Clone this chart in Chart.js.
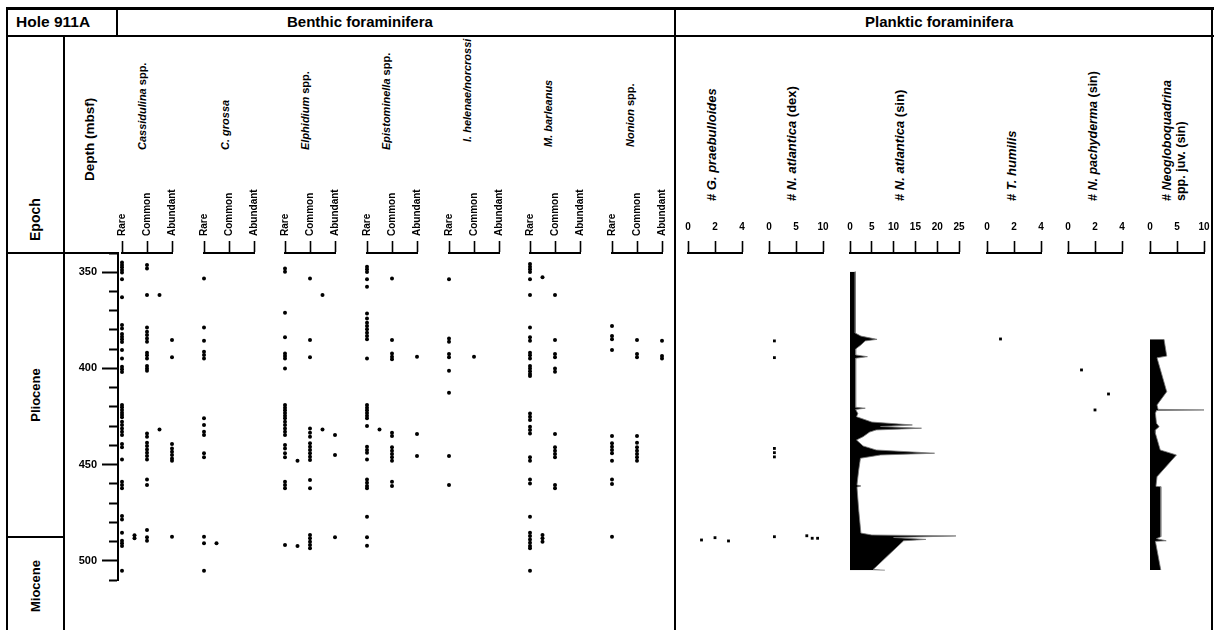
<!DOCTYPE html>
<html>
<head>
<meta charset="utf-8">
<script src="https://cdn.jsdelivr.net/npm/chart.js@4.4.1/dist/chart.umd.min.js"></script>
<style>
  html, body { margin: 0; padding: 0; background: #fff; }
  #page { position: relative; width: 1215px; height: 630px; overflow: hidden;
          font-family: 'Liberation Sans', Arial, sans-serif; color: #000; }
  .ln { position: absolute; background: #000; }
  .t  { position: absolute; white-space: nowrap; font-weight: bold; }
  .v  { position: absolute; white-space: nowrap; font-weight: bold;
        transform-origin: 0 0; transform: rotate(-90deg); }
  .vc { position: absolute; white-space: nowrap; font-weight: bold;
        transform: translate(-50%, -50%) rotate(-90deg); }
  canvas { position: absolute; }
</style>
</head>
<body>
<div id="page">
  <!-- frame -->
  <div class="ln" style="left:6px;top:7px;width:1208px;height:3px"></div>
  <div class="ln" style="left:6px;top:35px;width:1208px;height:2px"></div>
  <div class="ln" style="left:6px;top:7px;width:2px;height:623px"></div>
  <div class="ln" style="left:1211px;top:7px;width:2px;height:623px"></div>
  <div class="ln" style="left:116px;top:7px;width:2px;height:29px"></div>
  <div class="ln" style="left:674px;top:7px;width:2px;height:623px"></div>
  <div class="ln" style="left:63px;top:36px;width:2px;height:594px"></div>
  <div class="ln" style="left:6px;top:252px;width:112px;height:2px"></div>
  <div class="ln" style="left:6px;top:536px;width:58px;height:2px"></div>

  <!-- header row -->
  <div class="t" style="left:16px;top:13px;font-size:15.5px">Hole 911A</div>
  <div class="t" style="left:287px;top:13px;font-size:15px">Benthic foraminifera</div>
  <div class="t" style="left:865px;top:13px;font-size:15px">Planktic foraminifera</div>

  <!-- column titles -->
  <div class="v" style="left:27px;top:241px;font-size:14px;line-height:16px">Epoch</div>
  <div class="v" style="left:82px;top:181px;font-size:13.5px;line-height:15px">Depth (mbsf)</div>
  <div class="vc" style="left:35px;top:395px;font-size:13px">Pliocene</div>
  <div class="vc" style="left:35px;top:586px;font-size:13px">Miocene</div>

  <div class="v" style="left:136px;top:150px;font-size:11px;line-height:13px"><i>Cassidulina</i> spp.</div>
  <div class="v" style="left:219px;top:150px;font-size:11px;line-height:13px"><i>C. grossa</i></div>
  <div class="v" style="left:299px;top:150px;font-size:11px;line-height:13px"><i>Elphidium</i> spp.</div>
  <div class="v" style="left:380px;top:150px;font-size:11px;line-height:13px"><i>Epistominella</i> spp.</div>
  <div class="v" style="left:461px;top:142px;font-size:11px;line-height:13px"><i>I. helenae/norcrossi</i></div>
  <div class="v" style="left:542px;top:147px;font-size:11px;line-height:13px"><i>M. barleanus</i></div>
  <div class="v" style="left:624px;top:147px;font-size:11px;line-height:13px"><i>Nonion</i> spp.</div>

  <div class="v" style="left:705px;top:201px;font-size:13px;line-height:14px"># <i>G. praebulloides</i></div>
  <div class="v" style="left:785px;top:201px;font-size:13px;line-height:14px"># <i>N. atlantica</i> (dex)</div>
  <div class="v" style="left:893px;top:201px;font-size:13px;line-height:14px"># <i>N. atlantica</i> (sin)</div>
  <div class="v" style="left:1005px;top:201px;font-size:13px;line-height:14px"># <i>T. humilis</i></div>
  <div class="v" style="left:1086px;top:201px;font-size:12.5px;line-height:14px"># <i>N. pachyderma</i> (sin)</div>
  <div class="v" style="left:1160px;top:201px;font-size:12.5px;line-height:14px"># <i>Neogloboquadrina</i><br>spp. juv. (sin)</div>
</div>

<script>
// ---------- Benthic occurrences: depths (mbsf) per abundance level ----------
// levels: 1 Rare, 1.5 Rare-Common, 2 Common, 2.5 Common-Abundant, 3 Abundant
const cassidulinaR  = [345.0, 346.2, 347.4, 348.8, 350.2, 353.7, 363.0, 377.4, 379.2, 382.1, 383.5, 384.9, 386.3, 390.4, 394.8, 399.1, 400.5, 401.9, 419.0, 420.2, 421.6, 423.0, 424.2, 425.4, 427.7, 429.4, 431.2, 432.9, 434.6, 439.3, 441.0, 447.3, 458.9, 460.6, 462.3, 476.7, 478.5, 485.4, 489.6, 490.9, 492.3, 505.2];
const cassidulinaRC = [486.8, 488.3];
const cassidulinaC  = [346.2, 348.0, 361.8, 378.7, 380.9, 382.6, 384.4, 386.1, 391.8, 393.2, 394.8, 398.8, 400.1, 401.2, 433.8, 435.5, 438.6, 440.3, 442.1, 443.8, 445.5, 447.3, 457.7, 460.6, 484.0, 487.8, 489.6];
const cassidulinaCA = [361.8, 431.7];
const cassidulinaA  = [385.2, 394.2, 439.3, 441.6, 443.3, 445.0, 446.8, 448.0, 487.5];

const grossaR  = [353.2, 378.7, 385.6, 391.3, 393.0, 394.8, 425.9, 429.4, 432.9, 434.6, 444.1, 446.2, 487.5, 490.9, 505.2];
const grossaRC = [490.9];

const elphidiumR  = [348.0, 349.7, 371.0, 383.8, 392.2, 393.6, 394.8, 400.0, 419.0, 420.4, 421.8, 423.2, 424.6, 425.9, 427.7, 429.4, 431.2, 432.9, 434.6, 439.8, 441.6, 444.1, 446.2, 458.9, 460.6, 462.3, 491.8];
const elphidiumRC = [448.0, 492.3];
const elphidiumC  = [353.2, 385.2, 394.2, 431.2, 433.4, 435.5, 438.9, 440.7, 442.4, 444.1, 445.9, 447.6, 458.0, 462.3, 486.6, 488.3, 490.1, 491.8, 493.5];
const elphidiumCA = [361.8, 431.7];
const elphidiumA  = [434.6, 445.0, 487.8];

const epistominellaR  = [347.1, 348.5, 349.9, 353.7, 357.5, 371.4, 374.0, 376.2, 378.0, 379.7, 381.4, 383.2, 384.9, 394.8, 419.0, 420.4, 421.8, 423.2, 424.6, 425.9, 429.9, 440.7, 442.4, 443.8, 447.3, 457.7, 459.4, 461.1, 462.3, 477.1, 487.8, 492.2];
const epistominellaRC = [431.7];
const epistominellaC  = [353.2, 385.2, 392.2, 393.9, 395.3, 433.4, 435.1, 441.0, 442.8, 444.5, 446.2, 448.0, 458.9, 461.1];
const epistominellaA  = [393.9, 434.1, 445.5];

const helenaeR = [353.7, 384.4, 386.1, 392.5, 394.2, 401.2, 412.6, 445.5, 460.6];
const helenaeC = [393.9];

const barleanusR  = [345.7, 347.1, 348.5, 349.9, 353.7, 361.8, 378.7, 383.8, 385.6, 391.8, 393.2, 394.8, 398.8, 400.1, 401.5, 402.9, 404.0, 423.4, 425.1, 426.8, 430.3, 432.0, 433.8, 446.2, 448.0, 457.7, 459.8, 477.1, 485.4, 487.1, 488.9, 490.6, 492.3, 493.5, 505.2];
const barleanusRC = [352.6, 486.6, 488.3, 490.1];
const barleanusC  = [361.8, 385.2, 392.5, 394.2, 400.0, 401.7, 434.1, 441.0, 442.8, 444.5, 446.2, 460.6, 462.3];

const nonionR = [378.0, 383.2, 384.9, 390.4, 435.1, 438.9, 440.7, 442.4, 444.1, 448.0, 457.7, 460.1, 487.5];
const nonionC = [385.2, 392.5, 394.2, 435.1, 438.6, 441.0, 442.8, 444.5, 446.2, 448.0];
const nonionA = [385.6, 393.6, 394.9];

// ---------- Planktic counts (#) ----------
const praebDepth = [488.0, 489.2, 489.7];
const praebCount = [2, 1, 3];

const atlDexDepth = [385.7, 394.4, 441.6, 443.8, 446.0, 487.5, 487.0, 488.3, 488.3];
const atlDexCount = [1, 1, 1, 1, 1, 1, 7, 8, 9];

const atlSinDepth = [349.7, 381.6, 383.2, 384.9, 385.7, 387.8, 389.9, 393.0, 393.9, 394.7, 420.2, 420.7, 421.3, 423.5, 425.1, 427.9, 429.4, 430.2, 431.1, 432.0, 433.1, 435.5, 437.2, 440.3, 442.4, 444.1, 445.0, 446.7, 452.8, 460.6, 461.1, 461.7, 473.6, 485.6, 486.6, 487.1, 487.9, 488.9, 489.6, 504.6, 504.9];
const atlSinCount = [1.2, 1.2, 2.5, 6.2, 3.5, 2.5, 1.3, 1.3, 4.0, 1.3, 1.3, 3.5, 1.3, 1.8, 1.5, 5.0, 14.3, 7.0, 16.4, 6.0, 4.5, 3.0, 1.5, 3.0, 6.0, 19.4, 7.0, 2.4, 2.0, 1.6, 2.5, 1.6, 2.0, 2.5, 5.0, 24.3, 10.0, 17.4, 12.3, 5.3, 8.0];

const humilisDepth = [384.7];
const humilisCount = [1];

const pachyDepth = [400.8, 413.3, 421.6];
const pachyCount = [1, 3, 2];

const neogloDepth = [384.9, 393.6, 394.5, 412.1, 419.0, 421.3, 421.6, 421.9, 423.3, 428.5, 430.3, 432.0, 433.7, 442.4, 445.0, 456.3, 461.3, 461.5, 487.5, 488.5, 489.6, 489.9, 504.8];
const neogloCount = [2.6, 3.1, 1.3, 3.1, 1.3, 1.5, 10.0, 1.2, 1.0, 1.2, 1.7, 1.0, 1.0, 1.9, 4.9, 1.3, 1.1, 2.0, 2.0, 1.2, 3.0, 1.0, 2.0];

// depth axis
const depthMin = 340, depthMax = 510;
const depthStep = 10, depthLabelStep = 50;

// abundance scale tick labels
const abundanceLabels = ['Rare', 'Common', 'Abundant'];

// ---------- drawing ----------
Chart.defaults.font.family = "'Liberation Sans', Arial, sans-serif";
Chart.defaults.font.weight = 'bold';
Chart.defaults.color = '#000';

const page = document.getElementById('page');
const PLOT_TOP = 253, PLOT_BOTTOM = 580;

function addCanvas(x, y, w, h) {
  const c = document.createElement('canvas');
  c.width = w; c.height = h;
  c.style.left = x + 'px'; c.style.top = y + 'px';
  c.style.width = w + 'px'; c.style.height = h + 'px';
  page.appendChild(c);
  return c;
}

const depthScale = {
  type: 'linear', reverse: true, min: depthMin, max: depthMax, display: false
};

const baseOptions = () => ({
  responsive: false, animation: false, events: [],
  plugins: { legend: { display: false }, tooltip: { enabled: false } }
});

// depth axis with long ticks every 50 m and short ticks every 10 m
(function depthAxis() {
  const left = 40, top = PLOT_TOP - 10;
  const c = addCanvas(left, top, 100, PLOT_BOTTOM - PLOT_TOP + 20);
  new Chart(c, {
    type: 'scatter',
    data: { datasets: [] },
    options: Object.assign(baseOptions(), {
      layout: { padding: { top: 10, bottom: 10, left: 0, right: 0 } },
      scales: {
        x: { type: 'linear', min: 0, max: 1, display: false },
        y: {
          type: 'linear', position: 'left', reverse: true, min: depthMin, max: depthMax,
          afterFit: s => { s.width = 118 - left; s.paddingTop = 0; s.paddingBottom = 0; },
          ticks: {
            stepSize: depthStep, autoSkip: false, padding: 5,
            font: { size: 11, weight: 'bold' },
            callback: v => (v % depthLabelStep === 0 ? String(v) : '')
          },
          grid: {
            drawOnChartArea: false, drawTicks: true, tickLength: 16,
            tickColor: '#000', tickWidth: 2,
            tickBorderDash: ctx => (ctx.tick && ctx.tick.value % depthLabelStep === 0 ? [] : [0, 7, 9, 60])
          },
          border: { display: true, color: '#000', width: 2 }
        }
      }
    })
  });
})();

function panel(x0, x1, top, xAxis, datasets, type, extra) {
  const padL = 14, padR = 14, padB = 8;
  const w = x1 - x0 + padL + padR;
  const h = PLOT_BOTTOM - top + padB;
  const c = addCanvas(x0 - padL, top, w, h);
  const opts = Object.assign(baseOptions(), {
    layout: { padding: { left: padL, right: padR, top: 0, bottom: padB } },
    scales: {
      x: Object.assign({
        type: 'linear', position: 'top',
        afterFit: s => { s.height = PLOT_TOP - top; s.paddingLeft = 0; s.paddingRight = 0; },
        grid: { drawOnChartArea: false, drawTicks: true, tickLength: 12, tickColor: '#000', tickWidth: 1.6, color: '#000' },
        border: { display: true, color: '#000', width: 2 }
      }, xAxis),
      y: depthScale
    }
  }, extra || {});
  new Chart(c, { type, data: { datasets }, options: opts });
}

function dots(level, depths, radius, style) {
  return {
    data: depths.map(d => ({ x: level, y: d })),
    pointRadius: radius, pointStyle: style || 'circle',
    backgroundColor: '#000', borderWidth: 0, clip: false
  };
}

const abundanceAxis = {
  min: 1, max: 3,
  ticks: {
    stepSize: 1, autoSkip: false, minRotation: 90, maxRotation: 90, padding: 5,
    labelOffset: 12.5,
    font: { size: 10, weight: 'bold' },
    callback: v => abundanceLabels[v - 1] || ''
  }
};

const benthic = [
  [122, [[1, cassidulinaR], [1.5, cassidulinaRC], [2, cassidulinaC], [2.5, cassidulinaCA], [3, cassidulinaA]]],
  [204, [[1, grossaR], [1.5, grossaRC]]],
  [285, [[1, elphidiumR], [1.5, elphidiumRC], [2, elphidiumC], [2.5, elphidiumCA], [3, elphidiumA]]],
  [367, [[1, epistominellaR], [1.5, epistominellaRC], [2, epistominellaC], [3, epistominellaA]]],
  [449, [[1, helenaeR], [2, helenaeC]]],
  [530, [[1, barleanusR], [1.5, barleanusRC], [2, barleanusC]]],
  [612, [[1, nonionR], [2, nonionC], [3, nonionA]]]
];
benthic.forEach(([x0, levels]) => {
  panel(x0, x0 + 50, 175, abundanceAxis,
        levels.map(([lv, ds]) => dots(lv, ds, 2)), 'scatter');
});

function countAxis(max, step) {
  return {
    min: 0, max: max,
    ticks: { stepSize: step, autoSkip: false, minRotation: 0, maxRotation: 0, padding: 8,
             font: { size: 10, weight: 'bold' } }
  };
}

function countDots(depths, counts) {
  return {
    data: depths.map((d, i) => ({ x: counts[i], y: d })),
    pointRadius: 2, pointStyle: 'rect',
    backgroundColor: '#000', borderWidth: 0, clip: false
  };
}

function profile(depths, counts) {
  return {
    data: depths.map((d, i) => ({ x: counts[i], y: d })),
    fill: 'origin', backgroundColor: '#000',
    borderColor: '#777', borderWidth: 0.8, pointRadius: 0, tension: 0
  };
}

const PT = 212;
panel(688, 742, PT, countAxis(4, 2), [countDots(praebDepth, praebCount)], 'scatter');
panel(769, 823, PT, countAxis(10, 5), [countDots(atlDexDepth, atlDexCount)], 'scatter');
panel(850, 959, PT, countAxis(25, 5), [profile(atlSinDepth, atlSinCount)], 'line', { indexAxis: 'y' });
panel(987, 1041, PT, countAxis(4, 2), [countDots(humilisDepth, humilisCount)], 'scatter');
panel(1068, 1122, PT, countAxis(4, 2), [countDots(pachyDepth, pachyCount)], 'scatter');
panel(1150, 1204, PT, countAxis(10, 5), [profile(neogloDepth, neogloCount)], 'line', { indexAxis: 'y' });
</script>
</body>
</html>
